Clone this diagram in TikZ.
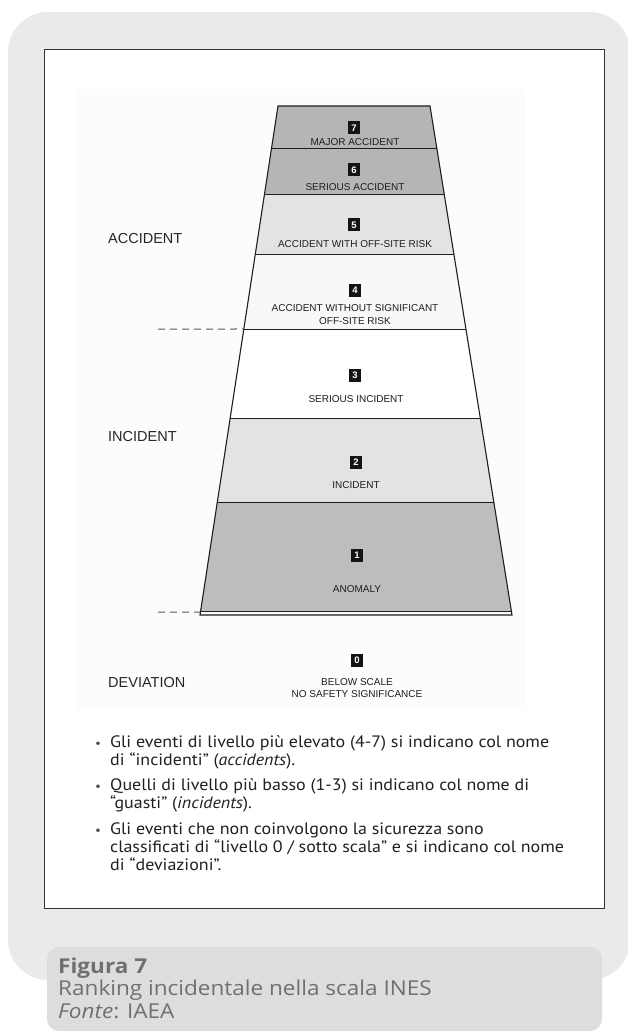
\documentclass[tikz,border=0pt]{standalone}
\usepackage{fontspec}
\setmainfont{PT Sans}[FakeStretch=1.09]
\newfontfamily\lblfont{Liberation Sans}
\newfontfamily\capfont{Open Sans}[FakeStretch=1.1]
\usetikzlibrary{calc}
\definecolor{outerg}{HTML}{E9EAEA}
\definecolor{capg}{HTML}{DCDDDE}
\definecolor{captxt}{HTML}{6F7072}
\definecolor{lvA}{HTML}{B5B5B5}
\definecolor{lvB}{HTML}{E3E3E3}
\definecolor{lvC}{HTML}{F8F8F8}
\definecolor{lvD}{HTML}{BDBDBD}
\definecolor{ink}{HTML}{1E1E1E}
\definecolor{bodytxt}{HTML}{231F20}
\tikzset{
  edge/.style={draw=ink, line width=1.1pt},
  divider/.style={draw=ink, line width=0.9pt},
  dashline/.style={draw=black!65, line width=1pt, dash pattern=on 7pt off 5pt},
  numbox/.style={fill=black!92, text=white, minimum width=12pt, minimum height=13pt, inner sep=0pt,
    font=\lblfont\bfseries\fontsize{9.5}{9.5}\selectfont},
  lvltxt/.style={text=ink, inner sep=0pt, align=center, font=\lblfont\fontsize{10}{13}\selectfont},
  sidetxt/.style={text=black!85, inner sep=0pt, anchor=west, font=\lblfont\fontsize{14.5}{16}\selectfont},
  bultxt/.style={text=bodytxt, inner sep=0pt, anchor=base west, font=\fontsize{16.5}{18}\selectfont},
  buldot/.style={text=bodytxt!80, inner sep=0pt, anchor=base, font=\fontsize{12}{12}\selectfont},
  captxtstyle/.style={text=captxt, inner sep=0pt, anchor=base west, font=\capfont\fontsize{20.5}{22}\selectfont}
}
\begin{document}
\begin{tikzpicture}[x=1pt,y=-1pt]
\useasboundingbox (0,0) rectangle (628,1032);
% background panels
\fill[outerg, rounded corners=40pt] (8,12) rectangle (630,980);
\draw[fill=white, draw=black!80, line width=0.9pt] (44,49) rectangle (604,908);
\fill[black!1] (75,89) rectangle (526,710);
\fill[capg, rounded corners=12pt] (47,947) rectangle (602,1031);

% pyramid corners
\coordinate (TL) at (278,106);
\coordinate (TR) at (430,106);
\coordinate (BL) at (200,615);
\coordinate (BR) at (512,615);

% bands
\foreach \ya/\yb/\col in {106/148/lvA,148/194/lvA,194/254/lvB,254/329/lvC,329/418/white,418/502/lvB,502/611/lvD}
  \fill[\col] ($(TL)!{(\ya-106)/509}!(BL)$) -- ($(TR)!{(\ya-106)/509}!(BR)$)
     -- ($(TR)!{(\yb-106)/509}!(BR)$) -- ($(TL)!{(\yb-106)/509}!(BL)$) -- cycle;
% dividers
\foreach \y in {148,194,254,329,418,502,611}
  \draw[divider] ($(TL)!{(\y-106)/509}!(BL)$) -- ($(TR)!{(\y-106)/509}!(BR)$);
% outline
\draw[edge] (TL) -- (TR) -- (BR) -- (BL) -- cycle;

% dashed separators
\coordinate (dA) at (158,329);
\coordinate (dB) at (158,612);
\coordinate (eA) at ($(TL)!{223/509}!(BL)$);
\coordinate (eB) at ($(TL)!{506/509}!(BL)$);
\draw[dashline] (dA) -- (eA);
\draw[dashline] (dB) -- (eB);

% level labels
\node[numbox] (n7) at (354,128) {7};
\node[lvltxt] (t7) at (355,142) {MAJOR ACCIDENT};
\node[numbox] (n6) at (354,170) {6};
\node[lvltxt] (t6) at (355,187) {SERIOUS ACCIDENT};
\node[numbox] (n5) at (354,225) {5};
\node[lvltxt] (t5) at (355,244) {ACCIDENT WITH OFF-SITE RISK};
\node[numbox] (n4) at (355,290) {4};
\node[lvltxt] (t4) at (355,315) {ACCIDENT WITHOUT SIGNIFICANT\\OFF-SITE RISK};
\node[numbox] (n3) at (355,375) {3};
\node[lvltxt] (t3) at (356,399) {SERIOUS INCIDENT};
\node[numbox] (n2) at (356,462) {2};
\node[lvltxt] (t2) at (356,485) {INCIDENT};
\node[numbox] (n1) at (357,555) {1};
\node[lvltxt] (t1) at (357,589) {ANOMALY};
\node[numbox] (n0) at (357,660) {0};
\node[lvltxt, font=\lblfont\fontsize{10}{12}\selectfont] (t0) at (357,688) {BELOW SCALE\\NO SAFETY SIGNIFICANCE};

% side labels
\node[sidetxt] (sA) at (108,239) {ACCIDENT};
\node[sidetxt] (sI) at (108,437) {INCIDENT};
\node[sidetxt] (sD) at (108,683) {DEVIATION};

% bullets
\node[buldot] (b1) at (98,747) {•};
\node[bultxt] (l1) at (110,747) {Gli eventi di livello più elevato (4-7) si indicano col nome};
\node[bultxt] (l2) at (110,765) {di “incidenti” (\textit{accidents}).};
\node[buldot] (b2) at (98,790) {•};
\node[bultxt] (l3) at (110,790) {Quelli di livello più basso (1-3) si indicano col nome di};
\node[bultxt] (l4) at (110,808) {“guasti” (\textit{incidents}).};
\node[buldot] (b3) at (98,834) {•};
\node[bultxt] (l5) at (110,834) {Gli eventi che non coinvolgono la sicurezza sono};
\node[bultxt] (l6) at (110,852) {classificati di “livello 0 / sotto scala” e si indicano col nome};
\node[bultxt] (l7) at (110,870) {di “deviazioni”.};

% caption
\node[captxtstyle, font=\capfont\bfseries\fontsize{20.5}{22}\selectfont] (c1) at (58,973) {Figura 7};
\node[captxtstyle] (c2) at (58,995) {Ranking incidentale nella scala INES};
\node[captxtstyle] (c3) at (58,1018) {\textit{Fonte}: IAEA};
\end{tikzpicture}
\end{document}
